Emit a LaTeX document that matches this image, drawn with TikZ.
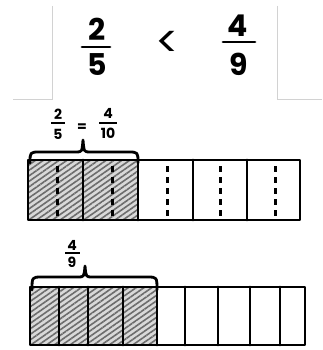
\documentclass[tikz,border=0pt]{standalone}
\usepackage{fontspec}
\setmainfont{Poppins}
\usetikzlibrary{patterns.meta}
\tikzset{
  ink/.style={line width=2.8pt, line cap=round, line join=round},
  frameline/.style={draw=gray!35, line width=0.8pt},
  bigdigit/.style={font=\fontsize{30}{30}\selectfont\bfseries, inner sep=0pt},
  smalldigit/.style={font=\fontsize{14}{14}\selectfont\bfseries, inner sep=0pt},
  hatch/.style={fill=gray!30, postaction={pattern={Lines[angle=35,distance=4.5pt,line width=1.6pt]}, pattern color=gray!85!black}},
  dashdiv/.style={line width=3pt, dash pattern=on 6pt off 5pt},
}
\begin{document}
\begin{tikzpicture}[x=1pt,y=-1pt]
\useasboundingbox[fill=white] (0,0) rectangle (322,350);
% gray frame
\draw[frameline] (52,6) -- (52,99) -- (13,99);
\draw[frameline] (277,6) -- (277,99) -- (322,99);
% top comparison
\node[bigdigit] (n1) at (97,29) {2};
\node[bigdigit] (d1) at (97,65) {5};
\draw[ink] (82,47) -- (110,47);
\node[font=\fontsize{44}{44}\selectfont, inner sep=0pt] (lt) at (168,44) {<};
\node[bigdigit] (n2) at (238,26) {4};
\node[bigdigit] (d2) at (239,64) {9};
\draw[ink] (223,42) -- (255,42);
% bar 1
\fill[hatch] (28,160) rectangle (138,220);
\draw[ink] (28,160) rectangle (300,220);
\foreach \x in {83,138,193,247} \draw[ink] (\x,160) -- (\x,220);
\foreach \x in {57,112,167,220,275} \draw[dashdiv] (\x,166) -- (\x,216);
% brace 1
\draw[ink] (30,163) .. controls (30,152) .. (40,152) -- (76,152) .. controls (82,152) .. (83,140) .. controls (84,152) .. (90,152) -- (128,152) .. controls (138,152) .. (138,163);
% label 1
\node[smalldigit] (a1) at (58,114) {2};
\node[smalldigit] (b1) at (58,134) {5};
\draw[line width=1.8pt] (51,123) -- (65,123);
\node[smalldigit] (eq) at (82,128) {=};
\node[smalldigit] (a2) at (108,113) {4};
\node[smalldigit] (b2) at (108,133) {10};
\draw[line width=1.8pt] (99,123) -- (117,123);
% bar 2
\fill[hatch] (30,287) rectangle (157,345);
\draw[ink] (30,287) rectangle (305,345);
\foreach \x in {59,88,123,157,185,218,250,280} \draw[ink] (\x,287) -- (\x,345);
% brace 2
\draw[ink] (32,290) .. controls (32,277) .. (42,277) -- (78,277) .. controls (84,277) .. (85,266) .. controls (86,277) .. (92,277) -- (147,277) .. controls (157,277) .. (157,290);
% label 2
\node[smalldigit] (a3) at (72,245) {4};
\node[smalldigit] (b3) at (72,262) {9};
\draw[line width=1.8pt] (65,253) -- (80,253);
\end{tikzpicture}
\end{document}
